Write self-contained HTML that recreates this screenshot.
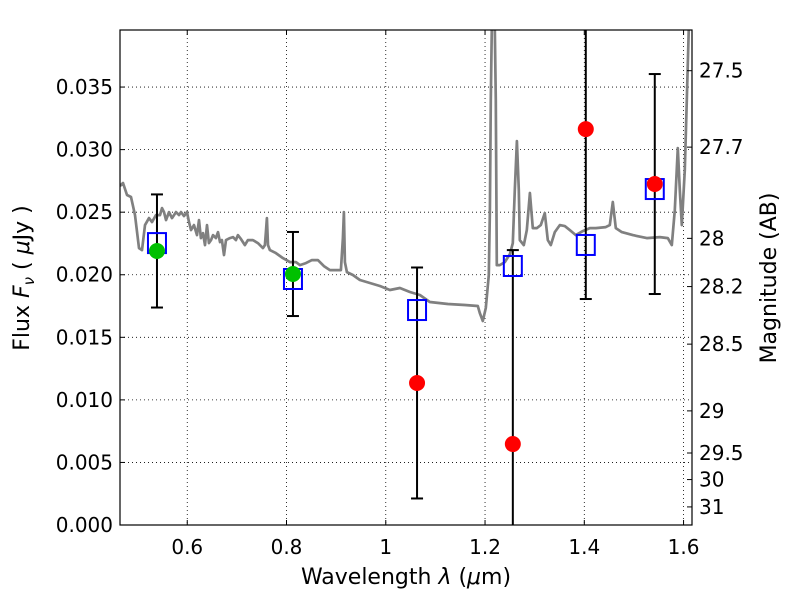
<!DOCTYPE html>
<html><head><meta charset="utf-8"><style>
html,body{margin:0;padding:0;background:#fff;overflow:hidden;width:800px;height:600px}
svg{display:block}
svg text{font-family:"DejaVu Sans","Liberation Sans",sans-serif;fill:#000}
</style></head><body>
<svg id="chart" width="800" height="600" xmlns="http://www.w3.org/2000/svg">
<defs><clipPath id="clip"><rect x="120" y="30" width="572" height="495"/></clipPath></defs>
<rect x="0" y="0" width="800" height="600" fill="#fff"/>
<g id="grid"></g>
<g id="marks" clip-path="url(#clip)"></g>
<rect x="120" y="30" width="572" height="495" fill="none" stroke="#000" stroke-width="1.2"/>
<g id="axes"></g>
<text x="406" y="584" font-size="22" text-anchor="middle">Wavelength  <tspan font-style="italic">λ</tspan> (<tspan font-style="italic">μ</tspan>m)</text>
<text transform="translate(29,278) rotate(-90)" font-size="22" text-anchor="middle">Flux  <tspan font-style="italic">F</tspan><tspan font-style="italic" font-size="15" dy="5">ν</tspan><tspan dy="-5">  ( </tspan><tspan font-style="italic">μ</tspan>Jy )</text>
<text transform="translate(776,278) rotate(-90)" font-size="22" text-anchor="middle">Magnitude (AB)</text>
</svg>
<script>
const specWave=[0.4645,0.4705,0.4786,0.4867,0.4947,0.5028,0.5088,0.5149,0.5229,0.5290,0.5370,0.5451,0.5491,0.5531,0.5571,0.5632,0.5692,0.5773,0.5833,0.5874,0.5934,0.5994,0.6035,0.6075,0.6135,0.6196,0.6236,0.6276,0.6317,0.6357,0.6397,0.6437,0.6478,0.6518,0.6578,0.6619,0.6659,0.6699,0.6740,0.6780,0.6860,0.6921,0.6981,0.7021,0.7082,0.7162,0.7223,0.7323,0.7424,0.7525,0.7565,0.7585,0.7605,0.7626,0.7666,0.7787,0.7928,0.8069,0.8190,0.8270,0.8391,0.8512,0.8633,0.8754,0.8874,0.8995,0.9096,0.9136,0.9156,0.9176,0.9217,0.9338,0.9479,0.9680,0.9881,1.0083,1.0284,1.0486,1.0687,1.0888,1.1251,1.1593,1.1855,1.1895,1.1955,1.2016,1.2076,1.2097,1.2117,1.2137,1.2197,1.2217,1.2238,1.2298,1.2399,1.2500,1.2560,1.2600,1.2641,1.2681,1.2701,1.2782,1.2842,1.2903,1.2963,1.3044,1.3124,1.3205,1.3265,1.3326,1.3406,1.3507,1.3608,1.3708,1.3829,1.3970,1.4111,1.4232,1.4433,1.4514,1.4574,1.4635,1.4756,1.4977,1.5259,1.5521,1.5682,1.5763,1.5823,1.5883,1.5924,1.5964,1.6025,1.6065,1.6105];
const specFlux=[0.02709,0.02733,0.02637,0.02621,0.02477,0.02213,0.02197,0.02397,0.02453,0.02421,0.02477,0.02477,0.02533,0.02501,0.02437,0.02501,0.02453,0.02501,0.02477,0.02501,0.02469,0.02501,0.02421,0.02357,0.02397,0.02317,0.02437,0.02293,0.02333,0.02237,0.02397,0.02253,0.02277,0.02317,0.02293,0.02341,0.02261,0.02277,0.02157,0.02277,0.02293,0.02301,0.02277,0.02317,0.02285,0.02237,0.02277,0.02277,0.02253,0.02213,0.02237,0.02341,0.02453,0.02237,0.02197,0.02173,0.02133,0.02101,0.02101,0.02077,0.02093,0.02117,0.02117,0.02069,0.02037,0.02037,0.02037,0.02293,0.02501,0.02101,0.02021,0.01998,0.01958,0.01934,0.01910,0.01878,0.01894,0.01862,0.01838,0.01782,0.01766,0.01758,0.01750,0.01694,0.01630,0.01734,0.01998,0.02517,0.03396,0.04035,0.04035,0.03396,0.02077,0.02077,0.02101,0.02165,0.02253,0.02677,0.03068,0.02677,0.02277,0.02237,0.02357,0.02653,0.02373,0.02373,0.02397,0.02493,0.02277,0.02237,0.02341,0.02397,0.02389,0.02357,0.02317,0.02349,0.02373,0.02373,0.02381,0.02397,0.02581,0.02373,0.02341,0.02317,0.02293,0.02301,0.02293,0.02237,0.02517,0.03012,0.02677,0.02397,0.02837,0.03396,0.04035];
const bandWave=[0.539,0.813,1.063,1.256,1.403,1.542];
const modelFlux=[0.02253,0.01966,0.01718,0.0207,0.02238,0.02685];
const obsFlux=[0.0219,0.02006,0.01135,0.00647,0.03164,0.02725];
const obsErr=[0.00452,0.00336,0.00923,0.0155,0.01358,0.00879];
const obsColor=['#00c000','#00c000','#ff0000','#ff0000','#ff0000','#ff0000'];
const xTicks=[0.6,0.8,1.0,1.2,1.4,1.6];
const xTickLabels=['0.6','0.8','1','1.2','1.4','1.6'];
const yTicks=[0,0.005,0.01,0.015,0.02,0.025,0.03,0.035];
const yTickLabels=['0.000','0.005','0.010','0.015','0.020','0.025','0.030','0.035'];
const magTicks=[27.5,27.7,28,28.2,28.5,29,29.5,30,31];
const magTickLabels=['27.5','27.7','28','28.2','28.5','29','29.5','30','31'];

const X0=120,X1=692,Y0=525,Y1=30,xmin=0.4645,xmax=1.617,ymin=0,ymax=0.03956;
const xs=v=>X0+(v-xmin)/(xmax-xmin)*(X1-X0);
const ys=v=>Y0-(v-ymin)/(ymax-ymin)*(Y0-Y1);
const NS='http://www.w3.org/2000/svg';
function mk(parent,tag,attrs){const e=document.createElementNS(NS,tag);for(const k in attrs)e.setAttribute(k,attrs[k]);parent.appendChild(e);return e;}
const grid=document.getElementById('grid'),marks=document.getElementById('marks'),axes=document.getElementById('axes');

xTicks.forEach((t,i)=>{
  const x=xs(t);
  const g=mk(grid,'line',{x1:x,x2:x,y1:Y1,y2:Y0,stroke:'#000','stroke-width':0.8,'stroke-dasharray':'1,3'});
  
  
  mk(axes,'line',{x1:x,x2:x,y1:Y0,y2:Y0-5,stroke:'#000'});
  mk(axes,'line',{x1:x,x2:x,y1:Y1,y2:Y1+5,stroke:'#000'});
  const tx=mk(axes,'text',{x:x,y:554,'font-size':20,'text-anchor':'middle'});
  tx.textContent=xTickLabels[i];
  
  
});
yTicks.forEach((t,i)=>{
  const y=ys(t);
  const g=mk(grid,'line',{x1:X0,x2:X1,y1:y,y2:y,stroke:'#000','stroke-width':0.8,'stroke-dasharray':'1,3'});
  
  
  mk(axes,'line',{x1:X0,x2:X0+5,y1:y,y2:y,stroke:'#000'});
  const tx=mk(axes,'text',{x:113,y:y+7,'font-size':20,'text-anchor':'end'});
  tx.textContent=yTickLabels[i];
  
  
});
magTicks.forEach((m,i)=>{
  const y=ys(Math.pow(10,(23.9-m)/2.5));
  mk(axes,'line',{x1:X1,x2:X1-5,y1:y,y2:y,stroke:'#000'});
  const tx=mk(axes,'text',{x:699,y:y+7,'font-size':20});
  tx.textContent=magTickLabels[i];
  
  
});

let d='';
specWave.forEach((w,i)=>{const y=Math.max(Y1-2,ys(specFlux[i]));d+=(i?'L':'M')+xs(w).toFixed(1)+','+y.toFixed(1);});
const sp=mk(marks,'path',{d:d,fill:'none',stroke:'#808080','stroke-width':2.7,'stroke-linejoin':'round'});



bandWave.forEach((w,i)=>{
  const x=xs(w);
  const e=mk(marks,'g',{});
  
  
  const ytRaw=ys(obsFlux[i]+obsErr[i]),ybRaw=ys(obsFlux[i]-obsErr[i]);
  const yt=Math.max(Y1,ytRaw),yb=Math.min(Y0,ybRaw);
  mk(e,'line',{x1:x,x2:x,y1:yt,y2:yb,stroke:'#000','stroke-width':2});
  if(ytRaw>=Y1) mk(e,'line',{x1:x-6,x2:x+6,y1:yt,y2:yt,stroke:'#000','stroke-width':2});
  if(ybRaw<=Y0) mk(e,'line',{x1:x-6,x2:x+6,y1:yb,y2:yb,stroke:'#000','stroke-width':2});
});
bandWave.forEach((w,i)=>{
  const x=xs(w),y=ys(modelFlux[i]);
  const r=mk(marks,'rect',{x:x-9,y:y-10,width:18,height:20,fill:'none',stroke:'#0000ff','stroke-width':2});
  
  
});
bandWave.forEach((w,i)=>{
  const c=mk(marks,'circle',{cx:xs(w),cy:ys(obsFlux[i]),r:8,fill:obsColor[i]});
  
  
});
</script>
</body></html>
